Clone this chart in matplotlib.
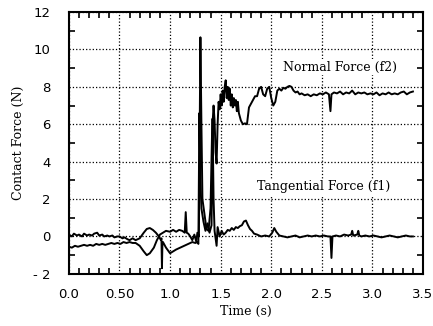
import matplotlib
matplotlib.use("Agg")
import matplotlib.pyplot as plt
from matplotlib.ticker import MultipleLocator, FixedLocator

# ---- data ----
f2_t = [0.00, 0.03, 0.06, 0.09, 0.12, 0.15, 0.18, 0.21, 0.24, 0.27, 0.30, 0.33, 0.36, 0.39,
        0.42, 0.45, 0.48, 0.51, 0.54, 0.57, 0.60, 0.63, 0.66, 0.70, 0.74, 0.77, 0.80, 0.84,
        0.87, 0.90, 0.93, 0.96, 1.00, 1.03, 1.06, 1.09, 1.12, 1.145, 1.155, 1.165, 1.18,
        1.20, 1.22, 1.24, 1.26, 1.27, 1.285, 1.30, 1.31, 1.32, 1.34, 1.36, 1.38, 1.40,
        1.415, 1.43, 1.44, 1.45, 1.46, 1.47, 1.48, 1.49, 1.50, 1.51, 1.52, 1.53, 1.54,
        1.55, 1.56, 1.57, 1.58, 1.59, 1.60, 1.61, 1.62, 1.63, 1.64, 1.65, 1.66, 1.67,
        1.68, 1.70, 1.72, 1.74, 1.76, 1.78, 1.80, 1.82, 1.84, 1.86, 1.88, 1.90, 1.92,
        1.94, 1.96, 1.98, 2.00, 2.02, 2.04, 2.06, 2.08, 2.10, 2.12, 2.14, 2.16, 2.18,
        2.20, 2.22, 2.24, 2.26, 2.28, 2.30, 2.33, 2.36, 2.39, 2.42, 2.45, 2.48, 2.51,
        2.54, 2.57, 2.585, 2.595, 2.62, 2.65, 2.68, 2.71, 2.74, 2.77, 2.80, 2.83, 2.86,
        2.89, 2.92, 2.95, 2.98, 3.01, 3.04, 3.07, 3.10, 3.13, 3.16, 3.19, 3.22, 3.25,
        3.28, 3.31, 3.34, 3.37, 3.40]
f2_v = [-0.55, -0.6, -0.5, -0.55, -0.5, -0.45, -0.5, -0.45, -0.5, -0.4, -0.45, -0.4, -0.45, -0.4,
        -0.35, -0.4, -0.35, -0.4, -0.3, -0.35, -0.3, -0.35, -0.35, -0.5, -0.8, -1.0, -0.9, -0.6,
        -0.2, 0.1, 0.2, 0.3, 0.25, 0.35, 0.25, 0.35, 0.3, 0.2, 1.3, 0.2, 0.15,
        0.0, -0.2, 0.1, -0.3, 0.2, 0.0, 10.65, 6.0, 2.0, 1.2, 0.4, 0.3, 1.5,
        5.5, 7.0, 6.2, 4.5, 3.9, 6.0, 7.2, 6.8, 7.6, 7.0, 7.8, 7.2, 8.0,
        8.35, 7.4, 8.0, 7.3, 7.9, 7.0, 7.6, 6.9, 7.4, 7.0, 7.3, 6.7, 7.2,
        6.6, 6.2, 6.0, 6.05, 6.0, 6.9, 7.1, 7.3, 7.5, 7.5, 7.9, 8.0, 7.6,
        7.5, 7.9, 8.0, 7.4, 7.0, 7.2, 7.8, 7.9, 7.8, 7.95, 7.9, 8.0, 8.05,
        8.0, 7.8, 7.7, 7.75, 7.6, 7.65, 7.55, 7.6, 7.5, 7.6, 7.55, 7.65, 7.6,
        7.7, 7.6, 6.7, 7.6, 7.7, 7.65, 7.75, 7.6, 7.7, 7.65, 7.8, 7.6, 7.7,
        7.65, 7.7, 7.6, 7.65, 7.6, 7.7, 7.55, 7.65, 7.6, 7.7, 7.6, 7.65, 7.6,
        7.7, 7.75, 7.6, 7.7, 7.75]

f1_t = [0.00, 0.03, 0.05, 0.08, 0.10, 0.13, 0.15, 0.18, 0.20, 0.23, 0.25, 0.28, 0.30, 0.33,
        0.35, 0.38, 0.40, 0.43, 0.45, 0.48, 0.50, 0.53, 0.55, 0.58, 0.60, 0.63, 0.66, 0.70,
        0.74, 0.77, 0.80, 0.83, 0.86, 0.89, 0.91, 0.915, 0.92, 0.925, 0.93, 0.96, 1.00,
        1.03, 1.06, 1.10, 1.14, 1.18, 1.22, 1.25, 1.27, 1.28, 1.29, 1.30, 1.31, 1.33,
        1.35, 1.37, 1.39, 1.41, 1.42, 1.43, 1.44, 1.46, 1.47, 1.49, 1.51, 1.53, 1.55,
        1.57, 1.59, 1.61, 1.63, 1.65, 1.67, 1.69, 1.71, 1.73, 1.75, 1.77, 1.79, 1.81,
        1.83, 1.86, 1.90, 1.94, 1.98, 2.01, 2.03, 2.05, 2.08, 2.12, 2.16, 2.20, 2.24,
        2.28, 2.32, 2.36, 2.40, 2.44, 2.48, 2.52, 2.56, 2.585, 2.595, 2.605, 2.64, 2.68,
        2.72, 2.76, 2.79, 2.80, 2.81, 2.85, 2.86, 2.87, 2.89, 2.93, 2.97, 3.01, 3.05,
        3.09, 3.13, 3.17, 3.21, 3.25, 3.29, 3.33, 3.37, 3.40]
f1_v = [0.1, 0.0, 0.15, 0.05, 0.1, 0.0, 0.15, 0.05, 0.1, 0.05, 0.15, 0.2, 0.05, 0.1,
        0.0, 0.05, 0.0, 0.05, -0.05, 0.0, 0.0, -0.1, -0.05, -0.15, -0.2, -0.1, -0.2, -0.1,
        0.2, 0.4, 0.45, 0.35, 0.2, 0.0, -0.2, -0.1, -1.7, -0.3, -0.3, -0.6, -0.9,
        -0.8, -0.7, -0.6, -0.5, -0.4, -0.3, -0.35, -0.3, -0.4, 6.6, 3.0, 1.5, 0.8,
        0.3, 0.7, 0.2, 0.6, 6.3, 2.0, 0.3, -0.5, 0.5, 0.0, 0.3, 0.1, 0.2,
        0.35, 0.3, 0.45, 0.35, 0.5, 0.45, 0.55, 0.6, 0.8, 0.85, 0.6, 0.4, 0.3,
        0.15, 0.1, 0.0, 0.05, 0.0, 0.2, 0.45, 0.25, 0.05, 0.0, -0.05, 0.0, 0.05,
        -0.05, 0.0, 0.05, 0.0, 0.05, 0.0, 0.05, 0.0, 0.0, -1.15, 0.0, 0.05, 0.0,
        0.1, 0.05, 0.1, 0.3, 0.05, 0.1, 0.3, 0.05, 0.0, 0.05, 0.0, 0.05, 0.0,
        -0.05, 0.0, 0.05, 0.0, -0.05, 0.0, 0.05, 0.0, 0.0]

x_ticks = [0.0, 0.5, 1.0, 1.5, 2.0, 2.5, 3.0, 3.5]
x_labels = ["0.0", "0.50", "1.0", "1.5", "2.0", "2.5", "3.0", "3.5"]
y_ticks = [-2, 0, 2, 4, 6, 8, 10, 12]
y_labels = ["- 2", "0", "2", "4", "6", "8", "10", "12"]

# ---- figure ----
fig = plt.figure(figsize=(4.33, 3.26), dpi=100)
ax = fig.add_axes([0.159, 0.16, 0.818, 0.803])

ax.plot(f2_t, f2_v, color="black", lw=1.4)
ax.plot(f1_t, f1_v, color="black", lw=1.4)

ax.set_xlim(0, 3.5)
ax.set_ylim(-2, 12)
ax.xaxis.set_major_locator(FixedLocator(x_ticks))
ax.yaxis.set_major_locator(FixedLocator(y_ticks))
ax.set_xticklabels(x_labels, family="DejaVu Sans", fontsize=9.5)
ax.set_yticklabels(y_labels, family="DejaVu Sans", fontsize=9.5)
ax.xaxis.set_minor_locator(MultipleLocator(0.1))
ax.yaxis.set_minor_locator(MultipleLocator(1))
ax.tick_params(axis="x", which="major", direction="in", length=0, pad=10, top=True)
ax.tick_params(axis="y", which="major", direction="in", length=0, pad=13, right=True)
ax.tick_params(which="minor", direction="in", length=4, width=1.2, top=True, right=True)
ax.grid(True, which="major", color="black", linestyle=":", linewidth=0.9)
for s in ax.spines.values():
    s.set_linewidth(1.5)

ax.set_xlabel("Time (s)", family="DejaVu Serif", fontsize=9, labelpad=3)
ax.set_ylabel("Contact Force (N)", family="DejaVu Serif", fontsize=9, labelpad=6)

ax.text(2.68, 9.06, "Normal Force (f2)", family="DejaVu Serif", fontsize=9,
        ha="center", va="center",
        bbox=dict(facecolor="white", edgecolor="none", pad=1))
ax.text(2.52, 2.65, "Tangential Force (f1)", family="DejaVu Serif", fontsize=9,
        ha="center", va="center",
        bbox=dict(facecolor="white", edgecolor="none", pad=1))

fig.savefig("out.png", dpi=100)
